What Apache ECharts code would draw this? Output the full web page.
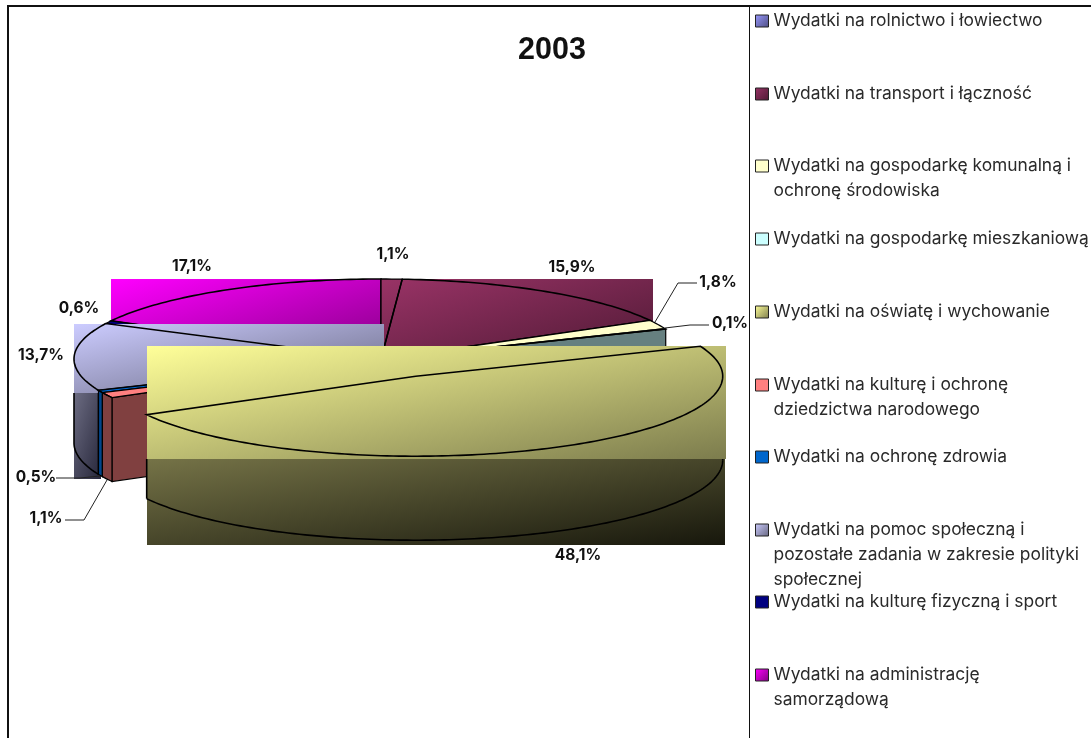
<!DOCTYPE html>
<html><head><meta charset="utf-8">
<style>html,body{margin:0;padding:0;background:#fff}#c{width:1091px;height:738px}</style>
<script src="https://cdn.jsdelivr.net/npm/echarts@6/dist/echarts.min.js"></script>
</head><body><div id="c"></div>
<script>
// ---- data ----
const titleText = '2003';
const categories = [
  'Wydatki na rolnictwo i łowiectwo',
  'Wydatki na transport i łączność',
  'Wydatki na gospodarkę komunalną i ochronę środowiska',
  'Wydatki na gospodarkę mieszkaniową',
  'Wydatki na oświatę i wychowanie',
  'Wydatki na kulturę i ochronę dziedzictwa narodowego',
  'Wydatki na ochronę zdrowia',
  'Wydatki na pomoc społeczną i pozostałe zadania w zakresie polityki społecznej',
  'Wydatki na kulturę fizyczną i sport',
  'Wydatki na administrację samorządową'
];
const values = [1.1, 15.9, 1.8, 0.1, 48.1, 1.1, 0.5, 13.7, 0.6, 17.1];
const legendLines = [
  ['Wydatki na rolnictwo i łowiectwo'],
  ['Wydatki na transport i łączność'],
  ['Wydatki na gospodarkę komunalną i', 'ochronę środowiska'],
  ['Wydatki na gospodarkę mieszkaniową'],
  ['Wydatki na oświatę i wychowanie'],
  ['Wydatki na kulturę i ochronę', 'dziedzictwa narodowego'],
  ['Wydatki na ochronę zdrowia'],
  ['Wydatki na pomoc społeczną i', 'pozostałe zadania w zakresie polityki', 'społecznej'],
  ['Wydatki na kulturę fizyczną i sport'],
  ['Wydatki na administrację', 'samorządową']
];
// ---- styles ----
const faceStart = ['#9999ff','#993366','#ffffcc','#ccffff','#ffff99','#ff8080','#0066cc','#ccccff','#000080','#ff00ff'];
const faceEnd   = ['#4d4d80','#4d1933','#ffffcc','#ccffff','#7c7c4d','#ff8080','#0066cc','#66667f','#000080','#800080'];
const sideStart = ['#4d4d80','#4d1933','#808066','#668080','#757347','#804040','#00468c','#6c6c82','#000040','#800080'];
const sideEnd   = ['#4d4d80','#4d1933','#808066','#668080','#17170c','#804040','#00468c','#26263a','#000040','#800080'];
// ---- layout ----
const W = { cx: 381, cy: 359, rx: 307, ry: 80, depth: 84, explode: 81, explodeSquash: 0.235 };
const explodedIndex = 4;
const drawOrder = [9, 0, 1, 8, 7, 6, 5, 2, 3, 4];
const legendCenters = [21, 94, 166, 239, 312, 385, 457, 530, 602, 675];
const labelCenters = [[393,254],[572,267],[718,282],[730,323],[578,555],[46,518],[36,477],[41,355],[79,308],[192,266]];
const leaders = { 2: [[655,322],[678,283],[697,283]], 3: [[665,328],[690,325],[709,325]], 5: [[65,520],[84,520],[107,480]], 6: [[56,478],[80,478],[100,476]] };
const rectThreshold = 5;      // slices at least this large are filled as a gradient box
const LINE = '#000';
const total = values.reduce((a, b) => a + b, 0);
const TAU = Math.PI * 2;

function angles(i) {
  let s = 0;
  for (let k = 0; k < i; k++) s += values[k];
  return [s / total * TAU, (s + values[i]) / total * TAU];
}
function centre(i) {
  if (i !== explodedIndex) return [W.cx, W.cy];
  const [a, b] = angles(i), m = (a + b) / 2;
  return [W.cx + W.explode * Math.sin(m), W.cy - W.explode * Math.cos(m) * W.explodeSquash];
}
function rim(c, t, d) { return [c[0] + W.rx * Math.sin(t), c[1] - W.ry * Math.cos(t) + (d || 0)]; }
function arc(c, a, b, d) {
  const n = Math.max(2, Math.ceil((b - a) / 0.02)), p = [];
  for (let j = 0; j <= n; j++) p.push(rim(c, a + (b - a) * j / n, d));
  return p;
}
const stops = (a, b) => [{ offset: 0, color: a }, { offset: 1, color: b }];
const grad = (a, b) => ({ type: 'linear', x: 0, y: 0, x2: 1, y2: 1, colorStops: stops(a, b) });
// corner-to-corner fill whose colour bands run along the other diagonal of the box
function boxGrad(x, y, w, h, a, b) {
  const s = 2 * w * h / (w * w + h * h);
  return { type: 'linear', global: true, x, y, x2: x + h * s, y2: y + w * s, colorStops: stops(a, b) };
}
const poly = (pts, style, z2) => ({ type: 'polygon', z2, shape: { points: pts }, style });
const line = (pts, z2, col, w) => ({ type: 'polyline', z2, shape: { points: pts }, style: { fill: null, stroke: col || LINE, lineWidth: w || 1.6 } });

function renderSlice(i, value) {
  const layer = (drawOrder.indexOf(i) + 1) * 10;
  const strokeLayer = (i === 0 ? (drawOrder.indexOf(1) + 1) * 10 : layer) + 5;
  const [a, b] = angles(i), c = centre(i), kids = [];
  const topArc = arc(c, a, b);
  const frontA = Math.max(a, Math.PI / 2), frontB = Math.min(b, Math.PI * 1.5);
  const hasFront = frontB > frontA;
  const large = value >= rectThreshold;
  const wallAt = i === explodedIndex - 1 ? b : i === explodedIndex + 1 ? a : null;
  if (wallAt !== null) {
    const e = rim(c, wallAt);
    kids.push(poly([c, e, [e[0], e[1] + W.depth], [c[0], c[1] + W.depth]], { fill: sideStart[i], stroke: LINE, lineWidth: 1.2 }, layer));
  }
  let boxBottom = 0;
  if (large) {
    const pts = topArc.concat([c]);
    const xs = pts.map(p => p[0]), ys = pts.map(p => p[1]);
    const x0 = Math.round(Math.min(...xs)), x1 = Math.round(Math.max(...xs) + 3);
    const y0 = Math.round(Math.min(...ys)); boxBottom = Math.round(Math.max(...ys) + 3);
    kids.push({ type: 'rect', z2: layer + 1, shape: { x: x0, y: y0, width: x1 - x0, height: boxBottom - y0 }, style: { fill: boxGrad(x0, y0, x1 - x0, boxBottom - y0, faceStart[i], faceEnd[i]) } });
    kids.push(line([c].concat(topArc).concat([c]), strokeLayer));
  } else {
    kids.push(poly([c].concat(topArc), { fill: faceStart[i], stroke: null }, layer + 1));
    kids.push(line([c].concat(topArc).concat([c]), strokeLayer, LINE, 1.3));
  }
  if (hasFront) {
    const lower = arc(c, frontA, frontB, W.depth);
    if (large) {
      const xs = lower.map(p => p[0]), ys = lower.map(p => p[1]);
      const x0 = Math.round(Math.min(...xs)), x1 = Math.round(Math.max(...xs) + 2.5);
      const y1 = Math.round(Math.max(...ys) + 4.5);
      kids.push({ type: 'rect', z2: layer + 2, shape: { x: x0, y: boxBottom, width: x1 - x0, height: y1 - boxBottom }, style: { fill: boxGrad(x0, boxBottom, x1 - x0, y1 - boxBottom, sideStart[i], sideEnd[i]) } });
      kids.push(line(lower, strokeLayer + 1));
      kids.push(line([[lower[0][0], boxBottom], lower[0]], strokeLayer + 1));
      const last = lower[lower.length - 1];
      kids.push(line([[last[0], boxBottom], last], strokeLayer + 1));
    } else {
      const upper = arc(c, frontA, frontB);
      kids.push(poly(upper.concat(lower.slice().reverse()), { fill: sideStart[i], stroke: LINE, lineWidth: 1.2 }, layer + 2));
    }
  }
  kids.push({ type: 'text', z2: 900, style: {
    text: value.toFixed(1).replace('.', ',') + '%', x: labelCenters[i][0], y: labelCenters[i][1],
    align: 'center', verticalAlign: 'middle', fill: '#111', font: 'bold 15.5px Inter'
  } });
  if (leaders[i]) kids.push(line(leaders[i], 890, '#222', 1));
  return { type: 'group', children: kids };
}

const chart = echarts.init(document.getElementById('c'), null, { renderer: 'canvas', width: 1091, height: 738 });
chart.setOption({
  animation: false,
  backgroundColor: '#fff',
  title: { text: titleText, left: 518, top: 35, padding: 0, textStyle: { fontFamily: 'Liberation Sans', fontSize: 30.5, fontWeight: 'bold', color: '#111' } },
  tooltip: { show: false },
  graphic: [
    { type: 'rect', shape: { x: 7, y: 5, width: 1084, height: 2 }, style: { fill: '#111' }, silent: true },
    { type: 'rect', shape: { x: 7, y: 5, width: 2, height: 733 }, style: { fill: '#111' }, silent: true },
    { type: 'rect', shape: { x: 749, y: 5, width: 1, height: 733 }, style: { fill: '#111' }, silent: true }
  ],
  legend: categories.map((name, i) => {
    const L = legendLines[i].length, lines = 2 * L - 1;
    return {
      data: [{ name, icon: 'rect', itemStyle: { color: grad(faceStart[i], faceEnd[i]), borderColor: '#222', borderWidth: 1 } }],
      left: 755, top: legendCenters[i] - lines * 25 / 2, padding: 0,
      itemWidth: 13, itemHeight: 12, itemGap: 0, selectedMode: false,
      formatter: () => '\n'.repeat(L - 1) + legendLines[i].join('\n'),
      textStyle: { fontFamily: 'Inter', fontSize: 17.4, lineHeight: 25, color: '#2a2a2a' }
    };
  }),
  series: categories.map((name, i) => ({
    type: 'custom', name, coordinateSystem: 'none', silent: true,
    itemStyle: { color: faceStart[i] },
    data: [[values[i]]],
    renderItem: (params, api) => renderSlice(i, api.value(0))
  }))
});
</script></body></html>
